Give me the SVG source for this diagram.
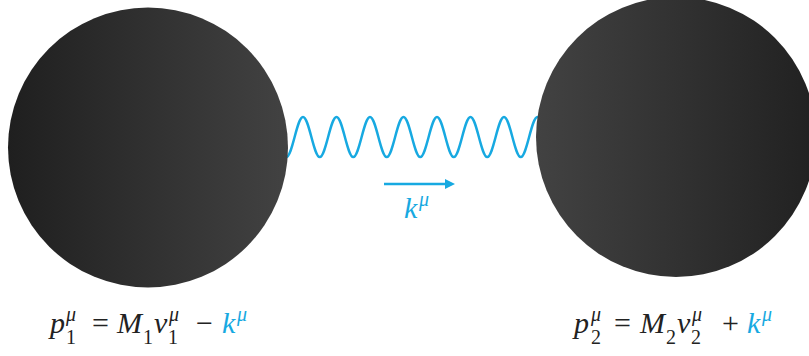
<svg xmlns="http://www.w3.org/2000/svg" width="809" height="356" viewBox="0 0 809 356">
  <style>
    .eq { font-family: "Liberation Serif", "DejaVu Serif", serif; font-size: 30px; fill: #222222; }
    .it { font-style: italic; }
    .sm { font-size: 20px; }
    .blue { fill: #17a9e1; }
    .wave { fill: none; stroke: #17a9e1; stroke-width: 2.5; }
  </style>
  <defs>
    <linearGradient id="gL" x1="0" y1="0" x2="1" y2="0">
      <stop offset="0" stop-color="#1f1f1f"/>
      <stop offset="1" stop-color="#424242"/>
    </linearGradient>
    <linearGradient id="gR" x1="0" y1="0" x2="1" y2="0">
      <stop offset="0" stop-color="#424242"/>
      <stop offset="1" stop-color="#212121"/>
    </linearGradient>
    <marker id="ah" viewBox="0 0 10 10" refX="2" refY="5" markerWidth="4" markerHeight="4" orient="auto">
      <path d="M0,0 L10,5 L0,10 Z" fill="#17a9e1"/>
    </marker>
  </defs>

  <g id="connectors">
    <path class="wave" d="M269.5,117 c6.1,0 10.650,40 16.75,40 c6.1,0 10.65,-40 16.75,-40 c6.1,0 10.65,40 16.75,40 c6.1,0 10.65,-40 16.75,-40 c6.1,0 10.65,40 16.75,40 c6.1,0 10.65,-40 16.75,-40 c6.1,0 10.65,40 16.75,40 c6.1,0 10.65,-40 16.75,-40 c6.1,0 10.65,40 16.75,40 c6.1,0 10.65,-40 16.75,-40 c6.1,0 10.65,40 16.75,40 c6.1,0 10.65,-40 16.75,-40 c6.1,0 10.65,40 16.75,40 c6.1,0 10.65,-40 16.75,-40 c6.1,0 10.65,40 16.75,40 c6.1,0 10.65,-40 16.75,-40 c6.1,0 10.65,40 16.75,40"/>
    <line x1="384" y1="184" x2="447" y2="184" stroke="#17a9e1" stroke-width="2.5" marker-end="url(#ah)"/>
    <text class="eq blue" x="404" y="218"><tspan class="it">k</tspan><tspan class="it sm" x="419" y="206">μ</tspan></text>
  </g>

  <g id="body1">
    <circle cx="148" cy="147.5" r="140" fill="url(#gL)"/>
    <text class="eq" y="333">
      <tspan class="it" x="50">p</tspan><tspan class="it sm" x="66" y="321">μ</tspan><tspan class="sm" x="66" y="344">1</tspan><tspan x="92" y="333">=</tspan><tspan class="it" x="117">M</tspan><tspan class="sm" x="143" y="344">1</tspan><tspan class="it" x="154" y="333">v</tspan><tspan class="it sm" x="169" y="321">μ</tspan><tspan class="sm" x="168" y="344">1</tspan><tspan x="196" y="333">−</tspan><tspan class="it blue" x="222">k</tspan><tspan class="it sm blue" x="237" y="321">μ</tspan>
    </text>
  </g>

  <g id="body2">
    <circle cx="676" cy="137" r="140" fill="url(#gR)"/>
    <text class="eq" y="333">
      <tspan class="it" x="574">p</tspan><tspan class="it sm" x="591" y="321">μ</tspan><tspan class="sm" x="591" y="344">2</tspan><tspan x="614" y="333">=</tspan><tspan class="it" x="640">M</tspan><tspan class="sm" x="666" y="344">2</tspan><tspan class="it" x="677" y="333">v</tspan><tspan class="it sm" x="692" y="321">μ</tspan><tspan class="sm" x="691" y="344">2</tspan><tspan x="722" y="333">+</tspan><tspan class="it blue" x="747">k</tspan><tspan class="it sm blue" x="762" y="321">μ</tspan>
    </text>
  </g>
</svg>
